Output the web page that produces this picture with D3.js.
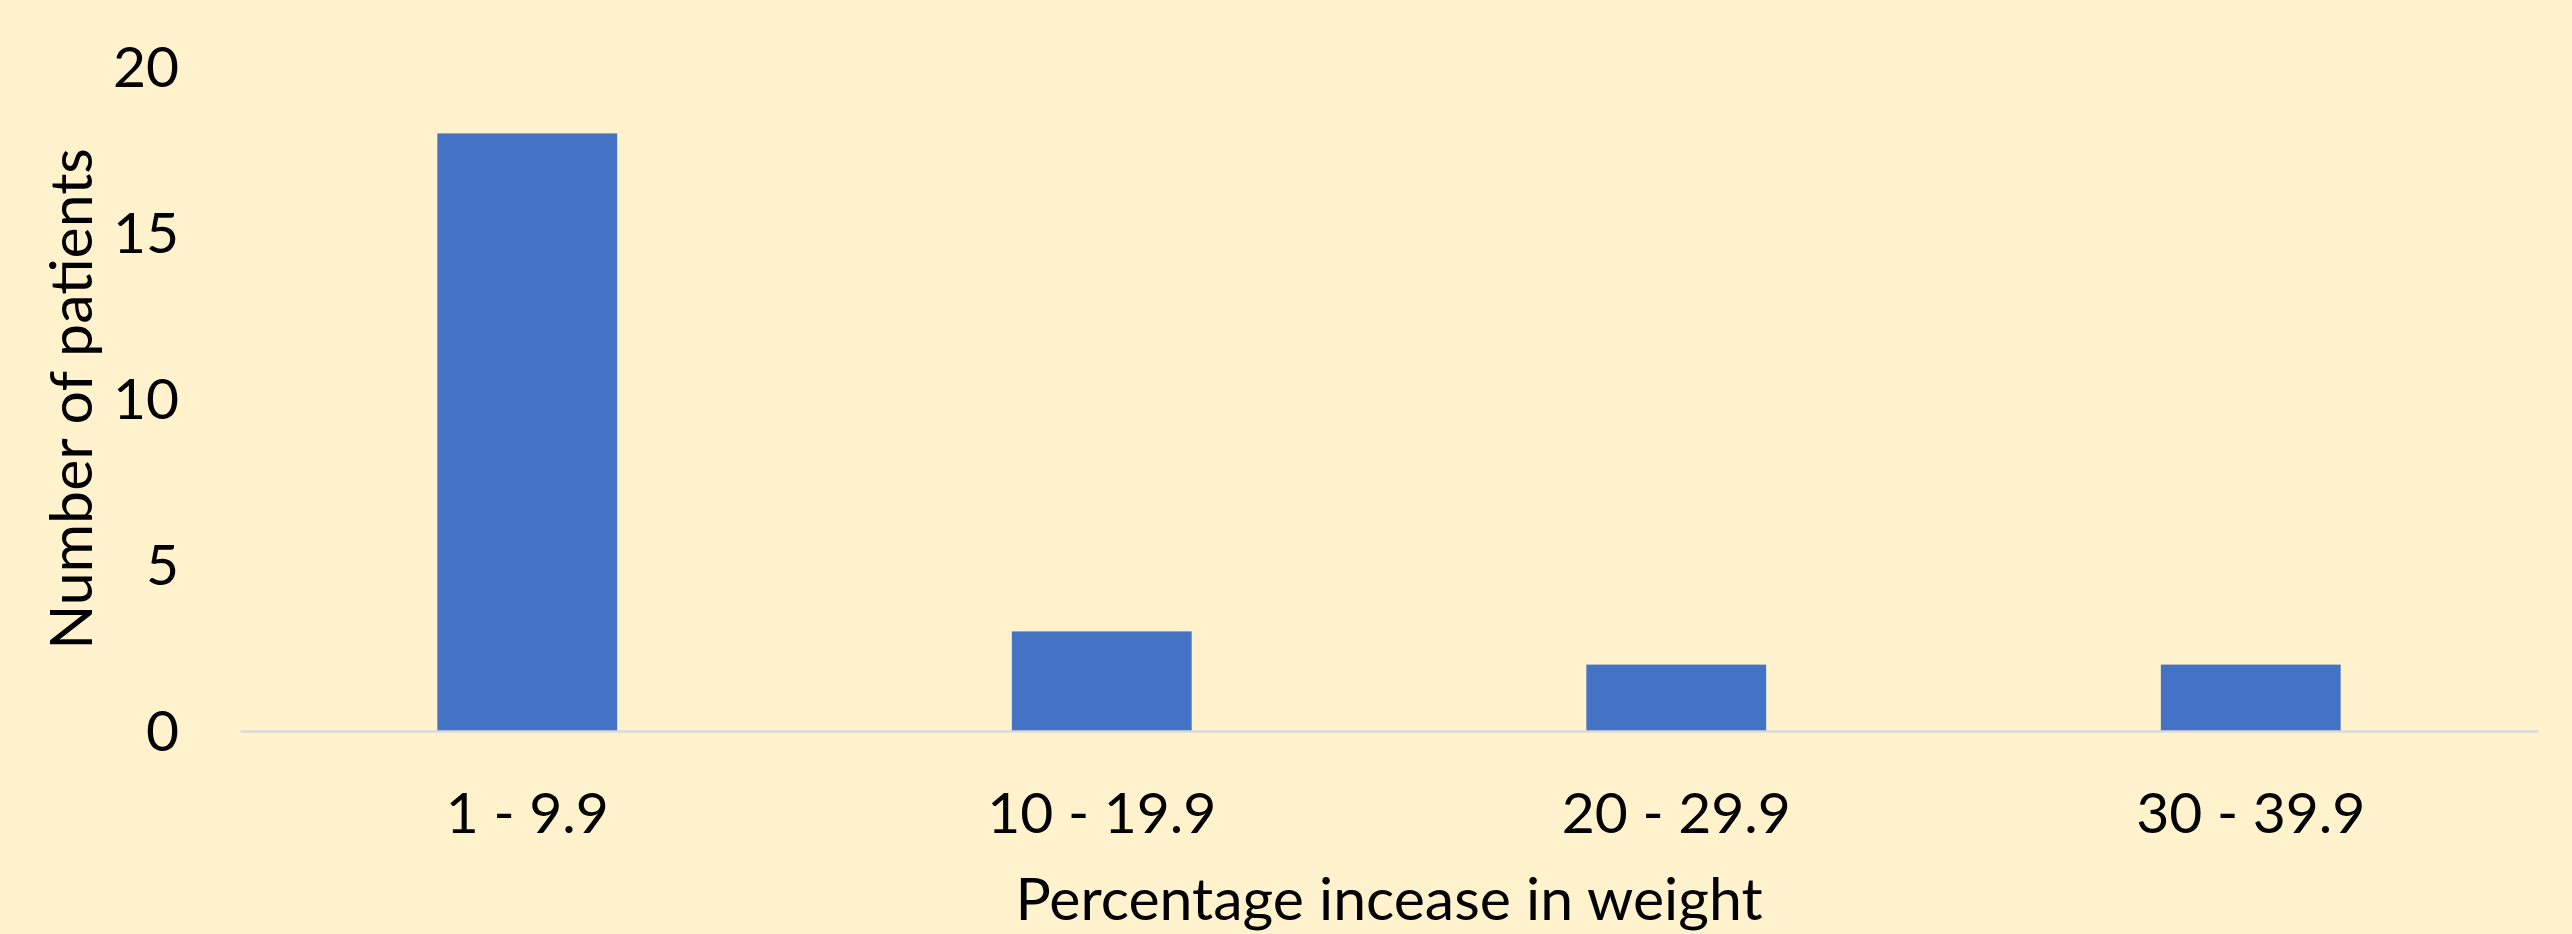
<!DOCTYPE html>
<html>
<head>
<meta charset="utf-8">
<script src="https://cdn.jsdelivr.net/npm/d3@7"></script>
<style>
  html, body { margin: 0; padding: 0; background: #FFF2CC; }
  svg { display: block; }
</style>
</head>
<body>
<script>
const categories = ["1 - 9.9", "10 - 19.9", "20 - 29.9", "30 - 39.9"];
const patients = [18, 3, 2, 2];
const yTicks = [0, 5, 10, 15, 20];
const xTitle = "Percentage incease in weight";
const yTitle = "Number of patients";

const W = 2572, H = 934;
const margin = { left: 240, right: 34, top: 67, bottom: 203 };
const FONT = "Lato, 'Open Sans', sans-serif";

const svg = d3.select("body").append("svg")
  .attr("width", W).attr("height", H);
svg.append("rect").attr("width", W).attr("height", H).attr("fill", "#FFF2CC");

const x = d3.scaleBand()
  .domain(categories)
  .range([margin.left, W - margin.right])
  .paddingInner(0.687)
  .paddingOuter(0.3435);

const y = d3.scaleLinear()
  .domain([0, 20])
  .range([H - margin.bottom, margin.top]);

// bars
svg.append("g").selectAll("rect")
  .data(categories.map((c, i) => ({ c, v: patients[i] })))
  .join("rect")
  .attr("x", d => x(d.c))
  .attr("y", d => y(d.v))
  .attr("width", x.bandwidth())
  .attr("height", d => y(0) - y(d.v))
  .attr("fill", "#4472C4");

// x axis
const xAxis = svg.append("g")
  .attr("transform", `translate(0,${y(0)})`)
  .call(d3.axisBottom(x).tickSize(0).tickPadding(0));
xAxis.select(".domain").attr("stroke", "#D9D9D9").attr("stroke-width", 2.5);
xAxis.selectAll(".tick text")
  .attr("dy", null)
  .attr("y", 102)
  .attr("font-family", FONT)
  .attr("font-size", 57)
  .attr("fill", "#000");

// y axis
const yAxis = svg.append("g")
  .attr("transform", `translate(${margin.left},0)`)
  .call(d3.axisLeft(y).tickValues(yTicks).tickSize(0).tickPadding(0));
yAxis.select(".domain").remove();
yAxis.selectAll(".tick text")
  .attr("dy", null)
  .attr("x", -61)
  .attr("y", 19)
  .attr("font-family", FONT)
  .attr("font-size", 57)
  .attr("fill", "#000");

// titles
svg.append("text")
  .attr("x", (margin.left + W - margin.right) / 2)
  .attr("y", 920)
  .attr("text-anchor", "middle")
  .attr("font-family", FONT)
  .attr("font-size", 59)
  .attr("fill", "#000")
  .text(xTitle);

svg.append("text")
  .attr("transform", `translate(92,${(y(0) + y(20)) / 2}) rotate(-90)`)
  .attr("text-anchor", "middle")
  .attr("font-family", FONT)
  .attr("font-size", 59)
  .attr("fill", "#000")
  .text(yTitle);
</script>
</body>
</html>
